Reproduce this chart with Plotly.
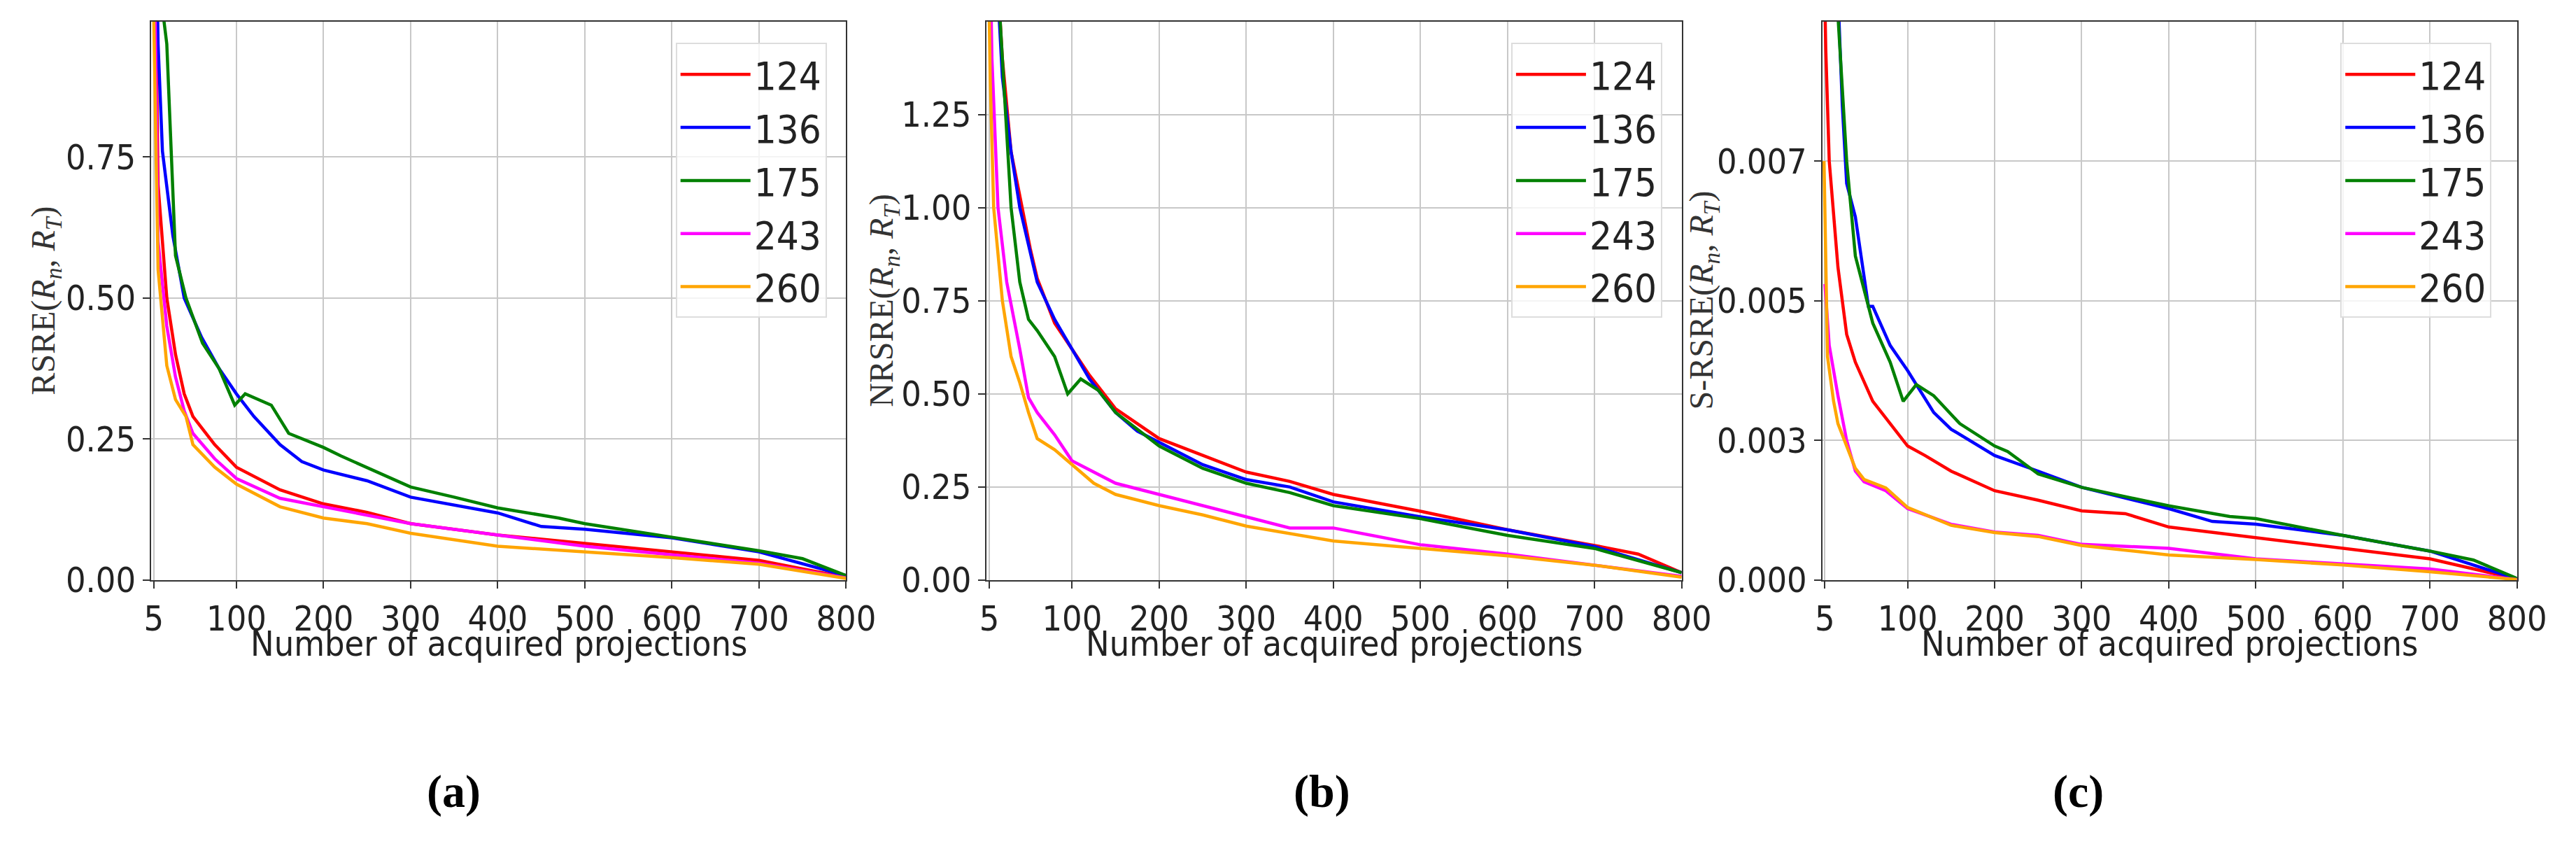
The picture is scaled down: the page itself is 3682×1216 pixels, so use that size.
import plotly.graph_objects as go

# sample sizes (legend entries) and colours
series_names = ['124', '136', '175', '243', '260']
colors = ['#ff0000', '#0000ff', '#008000', '#ff00ff', '#ffa500']

# (a) RSRE
a_x = {
    '124': [5, 10, 20, 30, 40, 50, 75, 100, 150, 200, 250, 300, 400, 500, 600, 700, 800],
    '136': [5, 10, 15, 27, 40, 60, 80, 100, 120, 150, 175, 200, 250, 300, 400, 450, 500, 600, 700, 800],
    '175': [5, 12, 20, 30, 42, 61, 80, 98, 110, 140, 160, 200, 220, 300, 350, 400, 470, 500, 600, 700, 750, 800],
    '243': [5, 10, 20, 30, 40, 50, 75, 100, 150, 200, 250, 300, 400, 500, 600, 700, 800],
    '260': [5, 8, 10, 20, 30, 42, 50, 75, 100, 150, 200, 250, 300, 400, 500, 600, 700, 800],
}
a_y = {
    '124': [1.3, 0.7, 0.50, 0.40, 0.33, 0.29, 0.24, 0.20, 0.16, 0.135, 0.12, 0.10, 0.08, 0.065, 0.05, 0.035, 0.005],
    '136': [1.4, 0.95, 0.76, 0.61, 0.50, 0.43, 0.375, 0.33, 0.29, 0.24, 0.21, 0.195, 0.176, 0.147, 0.119, 0.095, 0.09, 0.075, 0.05, 0.008],
    '175': [1.5, 1.05, 0.95, 0.575, 0.50, 0.42, 0.375, 0.31, 0.33, 0.31, 0.26, 0.235, 0.22, 0.165, 0.147, 0.128, 0.11, 0.10, 0.076, 0.052, 0.038, 0.008],
    '243': [1.2, 0.6, 0.45, 0.36, 0.30, 0.26, 0.215, 0.18, 0.145, 0.13, 0.115, 0.10, 0.08, 0.06, 0.045, 0.03, 0.004],
    '260': [1.0, 0.7, 0.55, 0.38, 0.32, 0.29, 0.24, 0.20, 0.17, 0.13, 0.11, 0.10, 0.083, 0.06, 0.05, 0.04, 0.028, 0.003],
}

# (b) NRSRE
b_x = {
    '124': [5, 20, 30, 52, 60, 80, 100, 120, 150, 200, 250, 300, 350, 400, 500, 600, 700, 750, 800],
    '136': [5, 20, 30, 40, 60, 80, 100, 120, 150, 175, 200, 250, 300, 350, 400, 500, 600, 700, 800],
    '175': [5, 20, 30, 40, 50, 60, 80, 95, 110, 130, 150, 200, 250, 300, 350, 400, 500, 600, 700, 800],
    '243': [5, 8, 15, 25, 40, 50, 60, 80, 100, 125, 150, 200, 250, 300, 350, 400, 500, 600, 700, 800],
    '260': [3, 6, 10, 20, 30, 40, 50, 60, 80, 100, 125, 150, 200, 250, 300, 400, 500, 600, 700, 800],
}
b_y = {
    '124': [2.0, 1.4, 1.15, 0.89, 0.81, 0.69, 0.62, 0.55, 0.46, 0.38, 0.335, 0.29, 0.265, 0.23, 0.185, 0.135, 0.093, 0.07, 0.02],
    '136': [2.0, 1.35, 1.15, 1.0, 0.80, 0.70, 0.62, 0.54, 0.45, 0.40, 0.37, 0.31, 0.27, 0.25, 0.21, 0.17, 0.135, 0.09, 0.02],
    '175': [2.0, 1.4, 1.0, 0.80, 0.70, 0.67, 0.60, 0.50, 0.54, 0.51, 0.45, 0.36, 0.30, 0.26, 0.235, 0.20, 0.165, 0.12, 0.085, 0.02],
    '243': [1.8, 1.4, 1.0, 0.80, 0.62, 0.49, 0.45, 0.39, 0.32, 0.29, 0.26, 0.23, 0.20, 0.17, 0.14, 0.14, 0.095, 0.07, 0.04, 0.01],
    '260': [1.8, 1.35, 1.0, 0.75, 0.60, 0.53, 0.45, 0.38, 0.35, 0.31, 0.26, 0.23, 0.20, 0.175, 0.145, 0.105, 0.085, 0.065, 0.04, 0.008],
}

# (c) S-RSRE
c_x = {
    '124': [3, 6, 10, 15, 20, 30, 40, 60, 80, 100, 120, 150, 200, 250, 300, 350, 400, 500, 600, 700, 800],
    '136': [5, 20, 25, 30, 40, 55, 60, 80, 100, 130, 150, 200, 250, 300, 400, 450, 500, 600, 700, 800],
    '175': [5, 20, 30, 40, 50, 60, 80, 95, 110, 130, 160, 200, 215, 250, 300, 400, 470, 500, 600, 700, 750, 800],
    '243': [5, 10, 20, 30, 40, 50, 75, 100, 150, 200, 250, 300, 400, 500, 600, 700, 800],
    '260': [4, 8, 15, 20, 30, 40, 50, 75, 100, 150, 200, 250, 300, 400, 500, 600, 700, 800],
}
c_y = {
    '124': [0.012, 0.0095, 0.0075, 0.0065, 0.0056, 0.0044, 0.0039, 0.0032, 0.0028, 0.0024, 0.00223, 0.00195, 0.0016, 0.00143, 0.00124, 0.00119, 0.00095, 0.00076, 0.00057, 0.00038, 0.00002],
    '136': [0.014, 0.0105, 0.0085, 0.0071, 0.0065, 0.0049, 0.0049, 0.0042, 0.00375, 0.0030, 0.0027, 0.00223, 0.00195, 0.00166, 0.00128, 0.00105, 0.0010, 0.0008, 0.00052, 0.00002],
    '175': [0.014, 0.0100, 0.0075, 0.0058, 0.0052, 0.0046, 0.0039, 0.0032, 0.0035, 0.0033, 0.0028, 0.0024, 0.0023, 0.0019, 0.00166, 0.00133, 0.00114, 0.0011, 0.0008, 0.00052, 0.00036, 0.00003],
    '243': [0.0053, 0.0042, 0.0033, 0.0025, 0.00195, 0.00176, 0.0016, 0.00128, 0.0010, 0.00086, 0.0008, 0.00064, 0.00057, 0.00038, 0.00029, 0.0002, 0.00001],
    '260': [0.0075, 0.0040, 0.0032, 0.0028, 0.0024, 0.0020, 0.0018, 0.00165, 0.0013, 0.00098, 0.00085, 0.00078, 0.00062, 0.00045, 0.00037, 0.00027, 0.00015, 0.00001],
}

x_ticks = [5, 100, 200, 300, 400, 500, 600, 700, 800]
a_ticks = [0, 0.25, 0.5, 0.75]
a_ticktext = ['0.00', '0.25', '0.50', '0.75']
b_ticks = [0, 0.25, 0.5, 0.75, 1.0, 1.25]
b_ticktext = ['0.00', '0.25', '0.50', '0.75', '1.00', '1.25']
c_ticks = [0, 0.0025, 0.005, 0.0075]
c_ticktext = ['0.000', '0.003', '0.005', '0.007']

panels = [
    ('a', a_x, a_y, [0, 0.99], a_ticks, a_ticktext, 'RSRE'),
    ('b', b_x, b_y, [0, 1.5], b_ticks, b_ticktext, 'NRSRE'),
    ('c', c_x, c_y, [0, 0.01], c_ticks, c_ticktext, 'S-RSRE'),
]
x_domains = [[0.0543, 0.3281], [0.3835, 0.6573], [0.7127, 0.9864]]
y_title_x = [47, 1263, 2452]
label_x = [0.1736, 0.5155, 0.8134]
legend_right = [1180, 2392, 3595]

W, H = 3682, 1216
sans = 'Liberation Sans Narrow, DejaVu Sans Condensed, Arial Narrow, sans-serif'
serif = 'Liberation Serif, DejaVu Serif, serif'

fig = go.Figure()
layout = dict(width=W, height=H, margin=dict(l=0, r=0, t=0, b=0),
              paper_bgcolor='white', plot_bgcolor='white', annotations=[])

for i, (tag, xs, ys, yr, yt, ytt, name) in enumerate(panels):
    n = '' if i == 0 else str(i + 1)
    leg = 'legend' + n
    for s, col in zip(series_names, colors):
        fig.add_trace(go.Scatter(x=xs[s], y=ys[s], mode='lines', name=s,
                                 line=dict(color=col, width=4.5),
                                 xaxis='x' + n, yaxis='y' + n, legend=leg))
    axis_common = dict(showline=True, mirror=True, linecolor='#333333', linewidth=2,
                       showgrid=True, gridcolor='#c8c8c8', gridwidth=2,
                       ticks='outside', ticklen=10, tickwidth=2, tickcolor='#333333',
                       tickfont=dict(family=sans, size=50, color='#222222'), zeroline=False)
    layout['xaxis' + n] = dict(axis_common, domain=x_domains[i], range=[2, 800],
                               tickvals=x_ticks, anchor='y' + n)
    layout['yaxis' + n] = dict(axis_common, domain=[0.3084, 0.981], range=yr,
                               tickvals=yt, ticktext=ytt, anchor='x' + n)
    layout[leg] = dict(x=legend_right[i] / W, y=0.955, xanchor='right', yanchor='top',
                       bgcolor='rgba(255,255,255,0.8)', bordercolor='#dddddd', borderwidth=2,
                       font=dict(family=sans, size=56, color='#222222'),
                       itemwidth=100)
    xc = sum(x_domains[i]) / 2
    layout['annotations'] += [
        dict(text=f'{name}(<i>R<sub>n</sub></i>, <i>R<sub>T</sub></i>)', xref='paper', yref='paper',
             x=y_title_x[i] / W, y=0.645, xanchor='center', yanchor='middle',
             textangle=-90, showarrow=False,
             font=dict(family=serif, size=48, color='#333333')),
        dict(text='Number of acquired projections', xref='paper', yref='paper',
             x=xc, y=1 - 934 / H, xanchor='center', yanchor='middle', showarrow=False,
             font=dict(family=sans, size=50, color='#222222')),
        dict(text=f'<b>({tag})</b>', xref='paper', yref='paper', x=label_x[i], y=1 - 1150 / H,
             xanchor='center', yanchor='middle',
             showarrow=False, font=dict(family=serif, size=66, color='#000000')),
    ]

fig.update_layout(**layout)
fig.write_html('out.html')
